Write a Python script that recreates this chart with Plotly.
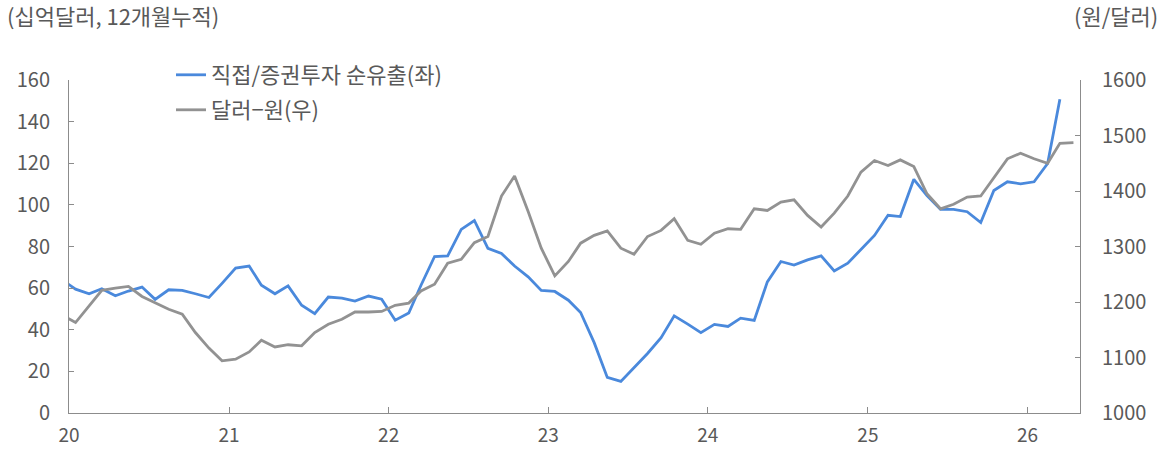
import plotly.graph_objects as go
import pandas as pd

# Monthly data (Dec 2019 .. )
flow_start, flow_end = "2019-12", "2026-03"
fx_start, fx_end = "2019-12", "2026-04"

# 직접/증권투자 순유출 (십억달러, 12개월누적)
flow = [64.0, 59.5, 57.3, 59.7, 56.3, 58.6, 60.5, 54.6, 59.2, 58.9, 57.3, 55.5, 62.3,
        69.6, 70.6, 61.4, 57.3, 61.1, 51.8, 47.7, 55.7, 55.2, 53.8, 56.2, 54.7,
        44.6, 48.0, 61.4, 75.2, 75.5, 88.2, 92.5, 79.1, 76.7, 70.6, 65.4, 58.9,
        58.4, 54.2, 48.3, 33.8, 17.1, 15.2, 21.8, 28.6, 36.2, 46.7, 42.7, 38.6,
        42.6, 41.6, 45.6, 44.5, 63.0, 72.8, 71.1, 73.6, 75.5, 68.3, 72.0, 78.7,
        85.3, 95.0, 94.4, 112.3, 104.5, 97.8, 97.8, 96.7, 91.5, 106.9, 111.1, 110.1,
        111.1, 119.9, 150.7]

# 달러-원 (원/달러)
fx = [1177, 1163, 1193, 1221, 1225, 1228, 1210, 1199, 1187, 1178, 1145, 1117, 1094,
      1097, 1110, 1131, 1119, 1123, 1121, 1145, 1160, 1169, 1182, 1182, 1183,
      1194, 1198, 1220, 1232, 1270, 1277, 1307, 1318, 1391, 1427, 1363, 1297,
      1247, 1273, 1306, 1320, 1328, 1297, 1286, 1318, 1329, 1350, 1311, 1304,
      1324, 1332, 1331, 1368, 1365, 1380, 1384, 1356, 1335, 1360, 1391, 1434,
      1455, 1446, 1456, 1444, 1395, 1368, 1376, 1389, 1391, 1424, 1458, 1468,
      1458, 1450, 1486, 1487]

year_ticks = ["2020-01-01", "2021-01-01", "2022-01-01", "2023-01-01",
              "2024-01-01", "2025-01-01", "2026-01-01"]
year_labels = ["20", "21", "22", "23", "24", "25", "26"]

name_flow = "직접/증권투자 순유출(좌)"
name_fx = "달러−원(우)"


def mid_month(start, end):
    periods = pd.period_range(start, end, freq="M")
    return [p.to_timestamp() + pd.Timedelta(days=15) for p in periods]


x_flow = mid_month(flow_start, flow_end)
x_fx = mid_month(fx_start, fx_end)

BLUE = "#4A89DC"
GRAY = "#929292"
TXT = "#595959"
AX = "#8C8C8C"
FONT = "Noto Sans CJK KR"

PW, PH = 1011, 333  # plot area size in px

fig = go.Figure()
fig.add_trace(go.Scatter(x=x_flow, y=flow, mode="lines", name=name_flow,
                         line=dict(color=BLUE, width=2.8), legend="legend"))
fig.add_trace(go.Scatter(x=x_fx, y=fx, mode="lines", name=name_fx, yaxis="y2",
                         line=dict(color=GRAY, width=2.8), legend="legend2"))

fig.update_layout(
    width=1173, height=449,
    margin=dict(l=69, r=93, t=80, b=36, autoexpand=False),
    paper_bgcolor="white", plot_bgcolor="white",
    font=dict(family=FONT, size=20, color=TXT),
    xaxis=dict(type="date", range=["2020-01-01", "2026-05-01"],
               tickmode="array", tickvals=year_ticks, ticktext=year_labels,
               ticks="inside", ticklen=6, tickcolor=AX, tickwidth=1,
               showline=True, linecolor=AX, linewidth=1, automargin=False,
               showgrid=False, zeroline=False, ticklabelstandoff=5,
               tickfont=dict(family=FONT, size=19, color=TXT)),
    yaxis=dict(range=[0, 160], dtick=20, tick0=0, automargin=False,
               ticks="inside", ticklen=5, tickcolor=AX,
               showline=True, linecolor=AX, linewidth=1,
               showgrid=False, zeroline=False, ticklabelstandoff=14,
               tickfont=dict(family=FONT, size=20, color=TXT)),
    yaxis2=dict(range=[1000, 1600], dtick=100, tick0=1000, overlaying="y", side="right",
                ticks="inside", ticklen=5, tickcolor=AX, automargin=False,
                showline=True, linecolor=AX, linewidth=1,
                showgrid=False, zeroline=False, ticklabelstandoff=17,
                tickfont=dict(family=FONT, size=20, color=TXT)),
    legend=dict(x=(171 - 69) / PW, y=(413 - 75) / PH, xanchor="left", yanchor="middle",
                bgcolor="rgba(0,0,0,0)", font=dict(family=FONT, size=22, color=TXT)),
    legend2=dict(x=(171 - 69) / PW, y=(413 - 110) / PH, xanchor="left", yanchor="middle",
                 bgcolor="rgba(0,0,0,0)", font=dict(family=FONT, size=22, color=TXT)),
    showlegend=True,
    annotations=[
        dict(text="(십억달러, 12개월누적)", xref="paper", yref="paper",
             x=-64 / PW, y=1 + (80 - 15) / PH, xanchor="left", yanchor="middle",
             showarrow=False, font=dict(family=FONT, size=22, color=TXT)),
        dict(text="(원/달러)", xref="paper", yref="paper",
             x=1 + (1160 - 1080) / PW, y=1 + (80 - 15) / PH, xanchor="right",
             yanchor="middle", showarrow=False,
             font=dict(family=FONT, size=22, color=TXT)),
    ],
)

fig.write_html("out.html", config={"displayModeBar": False},
               post_script="document.body.style.margin='0px';")
